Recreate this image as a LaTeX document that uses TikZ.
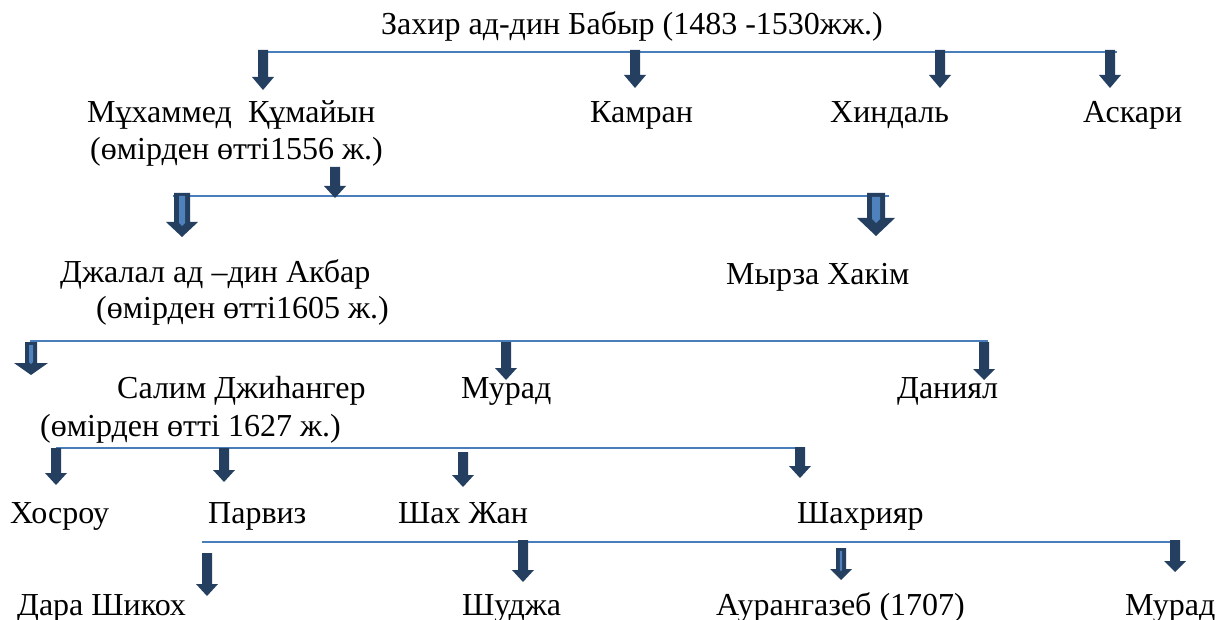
\documentclass[tikz,border=0pt]{standalone}
\usepackage{fontspec}
\setmainfont{Liberation Serif}
\definecolor{navy}{HTML}{243F60}
\definecolor{busblue}{HTML}{4A7EBB}
\definecolor{stripe}{HTML}{4F81BD}
% #1 style, #2 x, #3 y top, #4 y tip, #5 shaft half width, #6 head half width, #7 head length
\newcommand\blockarr[7]{%
  \path[#1] ({#2-#5},#3) -- ({#2+#5},#3) -- ({#2+#5},{#4-#7}) -- ({#2+#6},{#4-#7})
    -- (#2,#4) -- ({#2-#6},{#4-#7}) -- ({#2-#5},{#4-#7}) -- cycle;}
% light stripe inside a shaft: #1 x, #2 y top, #3 y bottom, #4 half width
\newcommand\arrstripe[4]{%
  \path[fill=stripe] ({#1-#4},#2) -- ({#1+#4},#2) -- ({#1+#4},#3) -- (#1,{#3+#4}) -- ({#1-#4},#3) -- cycle;}
\tikzset{
  txt/.style={anchor=base west, inner sep=0pt, font=\fontsize{32}{38}\selectfont},
  bus/.style={draw=busblue, line width=2pt},
  solidarr/.style={fill=navy},
}
\begin{document}
\begin{tikzpicture}[x=1pt,y=-1pt]
\useasboundingbox[fill=white] (0,0) rectangle (1226,620);
% text
\node[txt] (babur) at (381,35) {Захир ад-дин Бабыр (1483 -1530жж.)};
\node[txt] (hum1) at (87,123) {Мұхаммед\ \ Құмайын};
\node[txt] (hum2) at (90,160) {(өмірден өтті1556 ж.)};
\node[txt] (kamran) at (590,123) {Камран};
\node[txt] (hindal) at (830,123) {Хиндаль};
\node[txt] (askari) at (1083,123) {Аскари};
\node[txt] (akbar1) at (60,283) {Джалал ад –дин Акбар};
\node[txt] (akbar2) at (96,319) {(өмірден өтті1605 ж.)};
\node[txt] (hakim) at (726,285) {Мырза Хакім};
\node[txt] (salim1) at (117,398) {Салим Джиһангер};
\node[txt] (salim2) at (40,436) {(өмірден өтті 1627 ж.)};
\node[txt] (murad1) at (461,398) {Мурад};
\node[txt] (daniyal) at (897,398) {Даниял};
\node[txt] (khosrow) at (10,523) {Хосроу};
\node[txt] (parviz) at (208,523) {Парвиз};
\node[txt] (shahjahan) at (398,523) {Шах Жан};
\node[txt] (shahriyar) at (797,523) {Шахрияр};
\node[txt] (dara) at (17,615) {Дара Шикох};
\node[txt] (shuja) at (462,615) {Шуджа};
\node[txt] (aurang) at (716,615) {Аурангазеб (1707)};
\node[txt] (murad2) at (1125,615) {Мурад};
% bus lines
\coordinate (b1l) at (263,52); \coordinate (b1r) at (1117,52);
\coordinate (b2l) at (173,196); \coordinate (b2r) at (889,196);
\coordinate (b3l) at (30,341); \coordinate (b3r) at (988,341);
\coordinate (b4l) at (56,448); \coordinate (b4r) at (800,448);
\coordinate (b5l) at (202,542); \coordinate (b5r) at (1178,542);
\draw[bus] (b1l) -- (b1r);
\draw[bus] (b2l) -- (b2r);
\draw[bus] (b3l) -- (b3r);
\draw[bus] (b4l) -- (b4r);
\draw[bus] (b5l) -- (b5r);
% arrows row 1
\blockarr{solidarr}{263}{50}{90}{5}{11}{13}
\blockarr{solidarr}{635}{50}{88}{5}{11}{13}
\blockarr{solidarr}{940}{50}{88}{5}{11}{13}
\blockarr{solidarr}{1110}{50}{88}{5}{11}{13}
% row 2
\blockarr{solidarr}{335}{167}{198}{5}{11}{12}
\blockarr{solidarr}{182}{193}{237}{8}{16}{15}
\arrstripe{182}{196}{223}{3}
\blockarr{solidarr}{876}{193}{236}{9}{19}{18}
\arrstripe{876}{197}{219}{4}
% row 3
\blockarr{solidarr}{31}{342}{375}{6}{17}{12}
\arrstripe{31}{345}{362}{2}
\blockarr{solidarr}{506}{342}{380}{5}{11}{12}
\blockarr{solidarr}{984}{342}{380}{5}{11}{11}
% row 4
\blockarr{solidarr}{56}{448}{485}{5}{11}{12}
\blockarr{solidarr}{224}{448}{482}{5}{11}{12}
\blockarr{solidarr}{463}{452}{487}{5}{11}{12}
\blockarr{solidarr}{800}{447}{478}{5}{11}{12}
% row 5
\blockarr{solidarr}{207}{553}{596}{5}{11}{12}
\blockarr{solidarr}{523}{540}{582}{5}{11}{12}
\blockarr{solidarr}{841}{548}{580}{5}{11}{11}
\arrstripe{841}{551}{570}{1.2}
\blockarr{solidarr}{1175}{540}{572}{5}{11}{11}
\end{tikzpicture}
\end{document}
